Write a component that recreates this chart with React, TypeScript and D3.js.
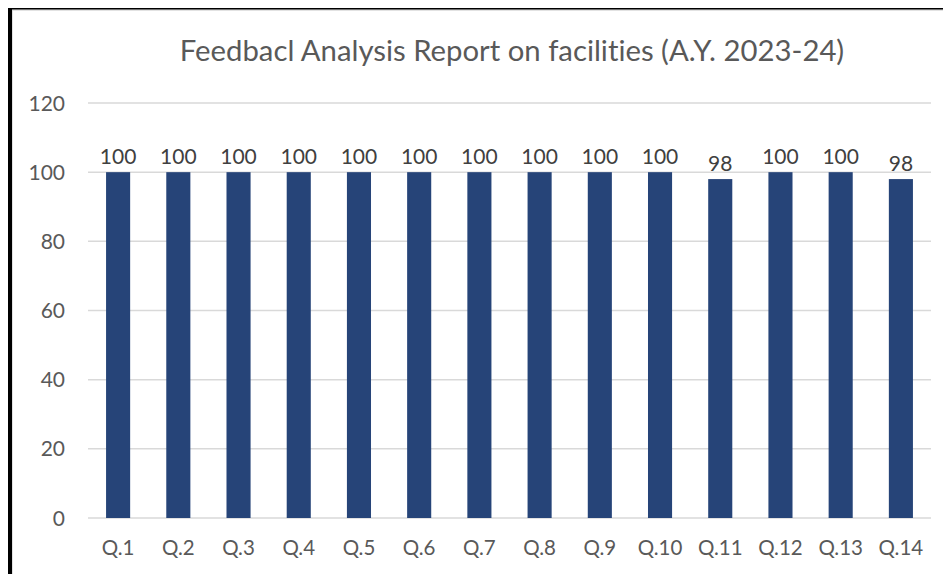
import React, { useEffect, useRef } from 'react';
import * as d3 from 'd3';

const categories = ['Q.1', 'Q.2', 'Q.3', 'Q.4', 'Q.5', 'Q.6', 'Q.7', 'Q.8', 'Q.9', 'Q.10', 'Q.11', 'Q.12', 'Q.13', 'Q.14'];
const values = [100, 100, 100, 100, 100, 100, 100, 100, 100, 100, 98, 100, 100, 98];
const yTicks = [0, 20, 40, 60, 80, 100, 120];
const title = 'Feedbacl Analysis Report on facilities (A.Y. 2023-24)';

const FONT = 'Lato, "Open Sans", sans-serif';

const App: React.FC = () => {
  const svgRef = useRef<SVGSVGElement>(null);

  useEffect(() => {
    if (!svgRef.current) return;
    const svg = d3.select(svgRef.current);
    svg.selectAll('*').remove();

    const width = 951;
    const height = 582;
    const left = 88, right = 931, top = 103, bottom = 518;

    // frame
    svg.append('rect').attr('width', width).attr('height', height).attr('fill', '#fff');
    svg.append('rect')
      .attr('x', 12).attr('y', 10).attr('width', width - 12).attr('height', 569)
      .attr('fill', 'none').attr('stroke', '#d9d9d9').attr('stroke-width', 1.5);
    svg.append('line').attr('x1', 10).attr('x2', 10).attr('y1', 7).attr('y2', height)
      .attr('stroke', '#000').attr('stroke-width', 4);
    svg.append('line').attr('x1', 8).attr('x2', width).attr('y1', 8).attr('y2', 8)
      .attr('stroke', '#000').attr('stroke-width', 3);

    const x = d3.scaleBand<string>().domain(categories).range([left, right]).paddingInner(0.6).paddingOuter(0.3);
    const y = d3.scaleLinear().domain([0, 120]).range([bottom, top]);

    // gridlines
    svg.append('g').selectAll('line').data(yTicks).enter().append('line')
      .attr('x1', left).attr('x2', right)
      .attr('y1', d => y(d)).attr('y2', d => y(d))
      .attr('stroke', '#d9d9d9').attr('stroke-width', 1.5);

    // y labels
    svg.append('g').selectAll('text').data(yTicks).enter().append('text')
      .attr('x', 65).attr('y', d => y(d))
      .attr('dy', '0.36em')
      .attr('text-anchor', 'end')
      .attr('font-family', FONT).attr('font-size', 21).attr('fill', '#595959')
      .text(d => d);

    // bars
    svg.append('g').selectAll('rect').data(values).enter().append('rect')
      .attr('x', (_, i) => x(categories[i]) || 0)
      .attr('y', d => y(d))
      .attr('width', x.bandwidth())
      .attr('height', d => y(0) - y(d))
      .attr('fill', '#264478');

    // value labels
    svg.append('g').selectAll('text').data(values).enter().append('text')
      .attr('x', (_, i) => (x(categories[i]) || 0) + x.bandwidth() / 2)
      .attr('y', d => y(d) - 8)
      .attr('text-anchor', 'middle')
      .attr('font-family', FONT).attr('font-size', 21).attr('fill', '#404040')
      .text(d => d);

    // x labels
    svg.append('g').selectAll('text').data(categories).enter().append('text')
      .attr('x', d => (x(d) || 0) + x.bandwidth() / 2)
      .attr('y', 555)
      .attr('text-anchor', 'middle')
      .attr('font-family', FONT).attr('font-size', 20.5).attr('fill', '#595959')
      .text(d => d);

    // title
    svg.append('text')
      .attr('x', 512).attr('y', 61)
      .attr('text-anchor', 'middle')
      .attr('font-family', FONT).attr('font-size', 29.3).attr('fill', '#595959')
      .style('font-variant-ligatures', 'none')
      .text(title);
  }, []);

  return (
    <div style={{ width: 951, height: 582, margin: -8 }}>
      <svg ref={svgRef} width={951} height={582} style={{ display: 'block' }} />
    </div>
  );
};

export default App;
